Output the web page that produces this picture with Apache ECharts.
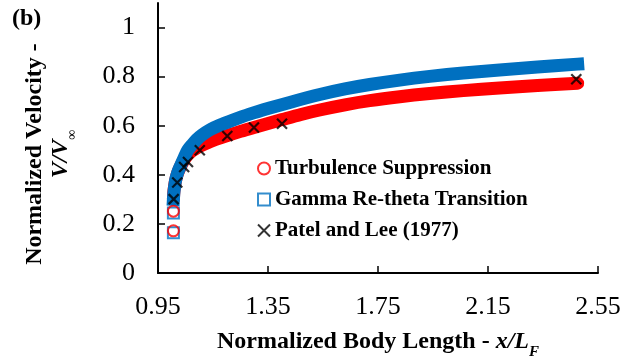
<!DOCTYPE html>
<html>
<head>
<meta charset="utf-8">
<script src="https://cdn.jsdelivr.net/npm/echarts@6/dist/echarts.min.js"></script>
<style>
html,body{margin:0;padding:0;background:#fff;}
#chart{width:623px;height:358px;}
</style>
</head>
<body>
<div id="chart"></div>
<script>
// ---- data ----
const xTickValues = [0.95, 1.35, 1.75, 2.15, 2.55];
const yTickValues = [0, 0.2, 0.4, 0.6, 0.8, 1];

const seriesNames = ['Turbulence Suppression', 'Gamma Re-theta Transition', 'Patel and Lee (1977)'];

// isolated first points (before the dense band)
const tsIsoX = [1.006, 1.006];
const tsIsoY = [0.172, 0.252];
const grIsoX = [1.006, 1.006];
const grIsoY = [0.164, 0.244];

// Turbulence Suppression dense band
const tsX = [1.006, 1.008, 1.013, 1.020, 1.030, 1.042, 1.055, 1.070, 1.085, 1.102, 1.130, 1.160, 1.202, 1.250, 1.299, 1.350, 1.401, 1.470, 1.538, 1.630, 1.720, 1.829, 1.938, 2.060, 2.192, 2.330, 2.476];
const tsY = [0.300, 0.335, 0.372, 0.402, 0.430, 0.456, 0.477, 0.494, 0.505, 0.516, 0.531, 0.544, 0.560, 0.577, 0.593, 0.609, 0.625, 0.646, 0.664, 0.685, 0.702, 0.718, 0.731, 0.743, 0.754, 0.764, 0.773];

// Gamma Re-theta Transition dense band
const grX = [1.006, 1.008, 1.014, 1.022, 1.032, 1.045, 1.058, 1.075, 1.090, 1.110, 1.140, 1.174, 1.220, 1.283, 1.356, 1.429, 1.538, 1.630, 1.720, 1.829, 1.938, 2.060, 2.192, 2.330, 2.476];
const grY = [0.300, 0.330, 0.378, 0.410, 0.437, 0.470, 0.500, 0.524, 0.543, 0.562, 0.584, 0.602, 0.622, 0.647, 0.672, 0.695, 0.727, 0.750, 0.768, 0.786, 0.801, 0.815, 0.827, 0.839, 0.851];

// Patel and Lee (1977) experiment
const plX = [1.007, 1.020, 1.045, 1.059, 1.102, 1.202, 1.299, 1.401, 2.471];
const plY = [0.301, 0.369, 0.432, 0.452, 0.500, 0.558, 0.593, 0.608, 0.789];

// ---- build ----
const zip = (xs, ys) => xs.map((x, i) => [x, ys[i]]);
const FONT = "'Liberation Serif', 'DejaVu Serif'";
const RED = '#FF0000', BLUE = '#0070C0';
const crossPath = 'path://M0,0L10,10M10,0L0,10';

const chart = echarts.init(document.getElementById('chart'), null, {renderer: 'canvas'});
chart.setOption({
  animation: false,
  backgroundColor: '#ffffff',
  grid: {left: 158, right: 25, top: 3, bottom: 85, containLabel: false, outerBoundsMode: 'none'},
  xAxis: {
    type: 'value', min: 0.95, max: 2.55,
    axisLine: {lineStyle: {color: '#000', width: 2}},
    axisTick: {show: true, inside: true, length: 7, lineStyle: {color: '#000', width: 1.5}, customValues: xTickValues},
    axisLabel: {customValues: xTickValues, margin: 21, color: '#000', fontFamily: FONT, fontSize: 26,
      formatter: v => String(+v.toFixed(2))},
    splitLine: {show: false},
    name: '{b|Normalized Body Length - }{i|x/L}{s|F}',
    nameLocation: 'middle', nameGap: 57,
    nameTextStyle: {
      rich: {
        b: {fontFamily: FONT, fontWeight: 'bold', fontSize: 24, color: '#000', padding: [0, 0, 6, 0], verticalAlign: 'bottom'},
        i: {fontFamily: FONT, fontWeight: 'bold', fontStyle: 'italic', fontSize: 24, color: '#000', padding: [0, 0, 6, 0], verticalAlign: 'bottom'},
        s: {fontFamily: FONT, fontWeight: 'bold', fontStyle: 'italic', fontSize: 15, color: '#000', verticalAlign: 'bottom'}
      }
    }
  },
  yAxis: {
    type: 'value', min: 0, max: 1.1,
    axisLine: {show: true, lineStyle: {color: '#000', width: 2}},
    axisTick: {show: true, inside: true, length: 7, lineStyle: {color: '#000', width: 1.5}, customValues: yTickValues},
    axisLabel: {customValues: yTickValues, margin: 23, color: '#000', fontFamily: FONT, fontSize: 26,
      formatter: v => String(+v.toFixed(1))},
    splitLine: {show: false}
  },
  legend: {
    orient: 'vertical', left: 252, top: 153, itemGap: 10,
    itemWidth: 12, itemHeight: 12,
    textStyle: {fontFamily: FONT, fontWeight: 'bold', fontSize: 21, color: '#000'},
    data: seriesNames
  },
  graphic: [
    {type: 'text', left: 12, top: 7, style: {text: '(b)', fontFamily: FONT, fontWeight: 'bold', fontSize: 24, fill: '#000'}},
    {type: 'text', x: 35, y: 154, rotation: Math.PI / 2,
      style: {text: 'Normalized Velocity -', fontFamily: FONT, fontWeight: 'bold', fontSize: 24, fill: '#000', align: 'center', verticalAlign: 'middle'}},
    {type: 'text', x: 64, y: 154, rotation: Math.PI / 2,
      style: {text: '{i|V/V}{s|∞}', align: 'center', verticalAlign: 'middle',
        rich: {
          i: {fontFamily: FONT, fontWeight: 'bold', fontStyle: 'italic', fontSize: 24, fill: '#000', padding: [0, 0, 6, 0], verticalAlign: 'bottom'},
          s: {fontFamily: FONT, fontSize: 14, fill: '#000', verticalAlign: 'bottom'}
        }}}
  ],
  series: [
    {name: seriesNames[0], type: 'scatter', z: 5, symbol: 'circle', symbolSize: 11,
      itemStyle: {color: 'rgba(255,255,255,0)', borderColor: RED, borderWidth: 2}, data: zip(tsIsoX, tsIsoY)},
    {name: seriesNames[1], type: 'scatter', z: 4, symbol: 'rect', symbolSize: 11,
      itemStyle: {color: 'rgba(255,255,255,0)', borderColor: BLUE, borderWidth: 2}, data: zip(grIsoX, grIsoY)},
    {name: seriesNames[2], type: 'scatter', z: 6, symbol: crossPath, symbolSize: 10,
      itemStyle: {color: '#000', borderColor: '#000', borderWidth: 2.2}, data: zip(plX, plY)},
    {name: seriesNames[0], type: 'line', z: 2, symbol: 'none', smooth: 0.3,
      lineStyle: {color: RED, width: 13, cap: 'round', join: 'round'}, data: zip(tsX, tsY)},
    {name: seriesNames[1], type: 'line', z: 3, symbol: 'none', smooth: 0.3,
      lineStyle: {color: BLUE, width: 13, cap: 'square', join: 'round'}, data: zip(grX, grY)}
  ]
});
</script>
</body>
</html>
